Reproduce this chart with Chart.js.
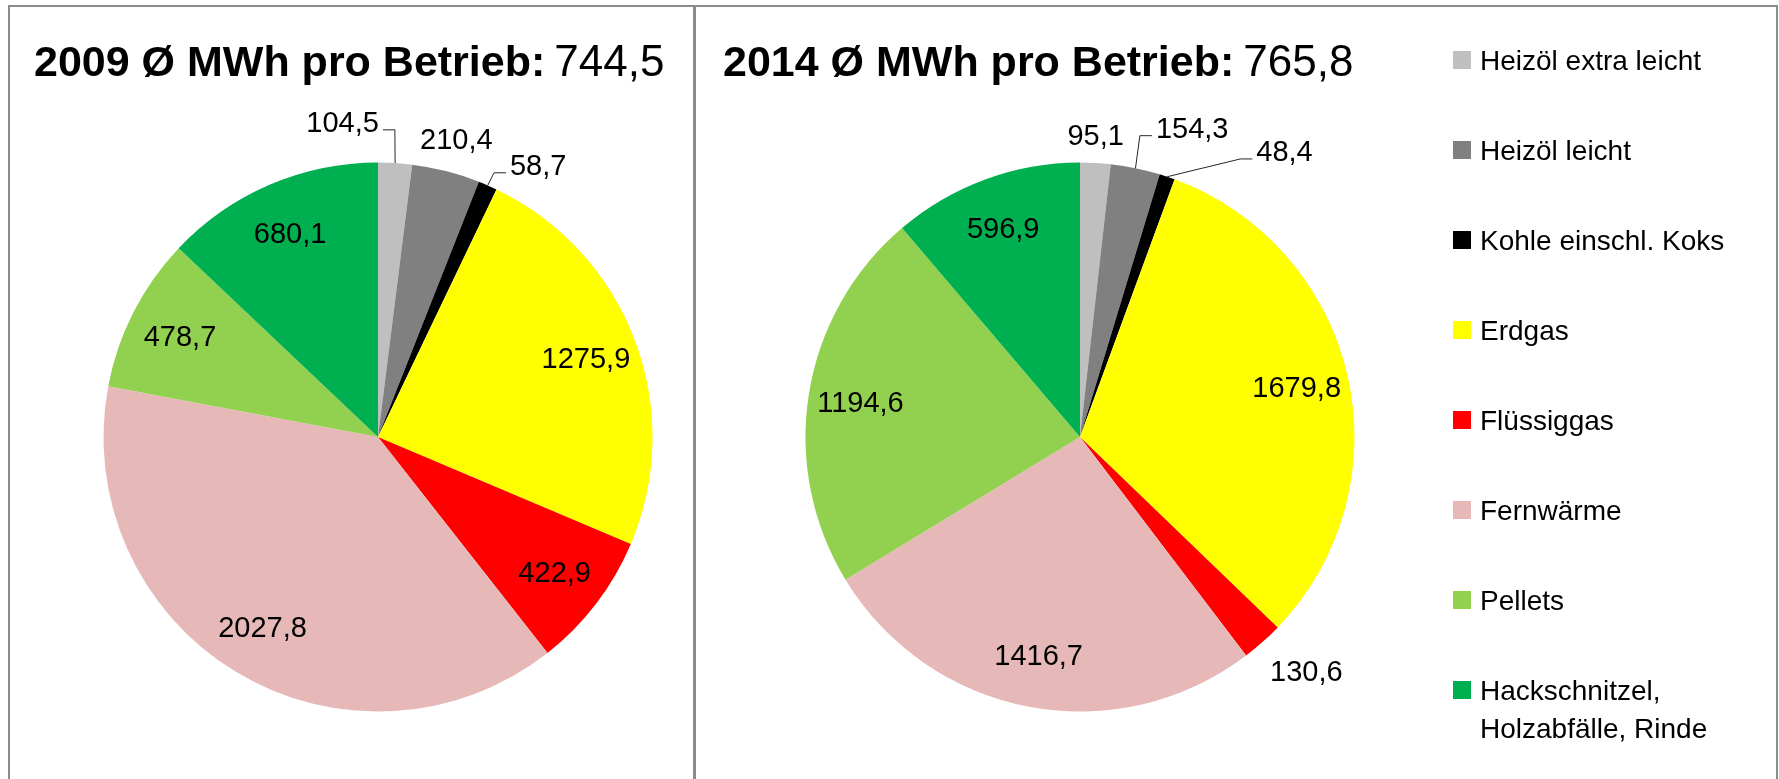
<!DOCTYPE html>
<html>
<head>
<meta charset="utf-8">
<title>Energieträger MWh pro Betrieb 2009 / 2014</title>
<script src="https://cdn.jsdelivr.net/npm/chart.js@4.4.1/dist/chart.umd.min.js"></script>
<style>
    html, body { margin: 0; padding: 0; background: #fff; }
    #wrap { position: relative; width: 1779px; height: 779px; overflow: hidden; }
    canvas { position: absolute; top: 0; }
    #chart2009 { left: 0; }
    #chart2014 { left: 693px; }
    .frame { position: absolute; top: 5px; height: 800px; border: 2px solid #8c8c8c; box-sizing: border-box; }
</style>
</head>
<body>
<div id="wrap">
    <div class="frame" style="left:8px; width:688px;"></div>
    <div class="frame" style="left:693px; width:1085px;"></div>
    <canvas id="chart2009" width="693" height="779"></canvas>
    <canvas id="chart2014" width="1086" height="779"></canvas>
</div>
<script>
// Data
const categories = ['Heizöl extra leicht', 'Heizöl leicht', 'Kohle einschl. Koks', 'Erdgas', 'Flüssiggas', 'Fernwärme', 'Pellets', ['Hackschnitzel,', 'Holzabfälle, Rinde']];
const values2009 = [104.5, 210.4, 58.7, 1275.9, 422.9, 2027.8, 478.7, 680.1];
const values2014 = [95.1, 154.3, 48.4, 1679.8, 130.6, 1416.7, 1194.6, 596.9];
const avg2009 = 744.5;
const avg2014 = 765.8;

// Colors
const colors = ['#BFBFBF', '#808080', '#000000', '#FFFF00', '#FF0000', '#E6B9B8', '#92D050', '#00B050'];

// Label placement ('in' = inside slice, 'out' = outside end) and nudges in px
const place2009 = ['out', 'out', 'out', 'in', 'in', 'in', 'in', 'in'];
const nudge2009 = [[-54, -18], [3, -3], [38, 8], [0, 0], [0, 0], [0, 0], [0, 0], [0, 0]];
const place2014 = ['out', 'out', 'out', 'in', 'out', 'in', 'in', 'in'];
const nudge2014 = [[-1, -5], [51, -13], [108, 2], [0, 0], [16, -2], [0, 0], [0, 0], [0, 0]];

const FONT = '"Liberation Sans", Arial, sans-serif';
const fmt = v => v.toFixed(1).replace('.', ',');

// Value labels with leader lines
function makeLabels(place, nudge) {
    return {
        id: 'pieLabels',
        afterDatasetsDraw(chart) {
            const ctx = chart.ctx;
            const meta = chart.getDatasetMeta(0);
            const data = chart.data.datasets[0].data;
            ctx.save();
            ctx.font = '29px ' + FONT;
            ctx.fillStyle = '#000';
            ctx.strokeStyle = '#262626';
            ctx.lineWidth = 1;
            ctx.textAlign = 'center';
            ctx.textBaseline = 'alphabetic';
            meta.data.forEach(function(arc, i) {
                const p = arc.getProps(['x', 'y', 'startAngle', 'endAngle', 'outerRadius'], true);
                const mid = (p.startAngle + p.endAngle) / 2;
                const ux = Math.cos(mid), uy = Math.sin(mid);
                const text = fmt(data[i]);
                const w = ctx.measureText(text).width;
                let cx, cy;
                if (place[i] === 'in') {
                    cx = p.x + ux * p.outerRadius * 0.81;
                    cy = p.y + uy * p.outerRadius * 0.81;
                } else {
                    const d = p.outerRadius + 8 + Math.abs(ux) * w / 2 + Math.abs(uy) * 13;
                    cx = p.x + ux * d;
                    cy = p.y + uy * d;
                }
                const dx = nudge[i][0], dy = nudge[i][1];
                cx += dx;
                cy += dy;
                if (Math.hypot(dx, dy) > 20) {
                    const ex = p.x + ux * p.outerRadius, ey = p.y + uy * p.outerRadius;
                    const side = cx < ex ? 1 : -1;
                    const sx = cx + side * (w / 2 + 4);
                    const ly = cy + 8;
                    ctx.beginPath();
                    ctx.moveTo(sx, ly);
                    ctx.lineTo(sx + side * 12, ly);
                    ctx.lineTo(ex, ey);
                    ctx.stroke();
                }
                ctx.fillText(text, cx, cy + 10);
            });
            ctx.restore();
        }
    };
}

// Title: bold text + regular value
function makeTitle(text, value, x, y) {
    return {
        id: 'pieTitle',
        afterDraw(chart) {
            const ctx = chart.ctx;
            ctx.save();
            ctx.fillStyle = '#000';
            ctx.textBaseline = 'alphabetic';
            ctx.textAlign = 'left';
            ctx.font = 'bold 43px ' + FONT;
            ctx.fillText(text, x, y);
            const w = ctx.measureText(text).width;
            ctx.font = '44px ' + FONT;
            ctx.fillText(fmt(value), x + w + 9, y);
            ctx.restore();
        }
    };
}

// Legend (drawn from the library's generated legend items)
const sideLegend = {
    id: 'sideLegend',
    afterDraw(chart) {
        const ctx = chart.ctx;
        const items = chart.options.plugins.legend.labels.generateLabels(chart);
        ctx.save();
        ctx.font = '28px ' + FONT;
        ctx.textBaseline = 'alphabetic';
        ctx.textAlign = 'left';
        items.forEach(function(item, i) {
            const cy = 60 + i * 90;
            ctx.fillStyle = item.fillStyle;
            ctx.fillRect(760, cy - 9, 18, 18);
            ctx.fillStyle = '#000';
            const lines = Array.isArray(item.text) ? item.text : [item.text];
            lines.forEach(function(line, j) {
                ctx.fillText(line, 787, cy + 10 + j * 38);
            });
        });
        ctx.restore();
    }
};

function pieConfig(values, padding, plugins) {
    return {
        type: 'pie',
        data: {
            labels: categories,
            datasets: [{
                data: values,
                backgroundColor: colors,
                borderWidth: 0,
                hoverOffset: 0
            }]
        },
        options: {
            responsive: false,
            animation: false,
            layout: { padding: padding },
            plugins: {
                legend: { display: false },
                title: { display: false }
            }
        },
        plugins: plugins
    };
}

// 2009
const chart2009 = new Chart(document.getElementById('chart2009').getContext('2d'), pieConfig(
    values2009,
    { left: 103.5, right: 40.5, top: 162.5, bottom: 67.5 },
    [makeLabels(place2009, nudge2009), makeTitle('2009 Ø MWh pro Betrieb:', avg2009, 34, 76)]
));

// 2014
const chart2014 = new Chart(document.getElementById('chart2014').getContext('2d'), pieConfig(
    values2014,
    { left: 112.5, right: 424.5, top: 162.5, bottom: 67.5 },
    [makeLabels(place2014, nudge2014), makeTitle('2014 Ø MWh pro Betrieb:', avg2014, 30, 76), sideLegend]
));
</script>
</body>
</html>
